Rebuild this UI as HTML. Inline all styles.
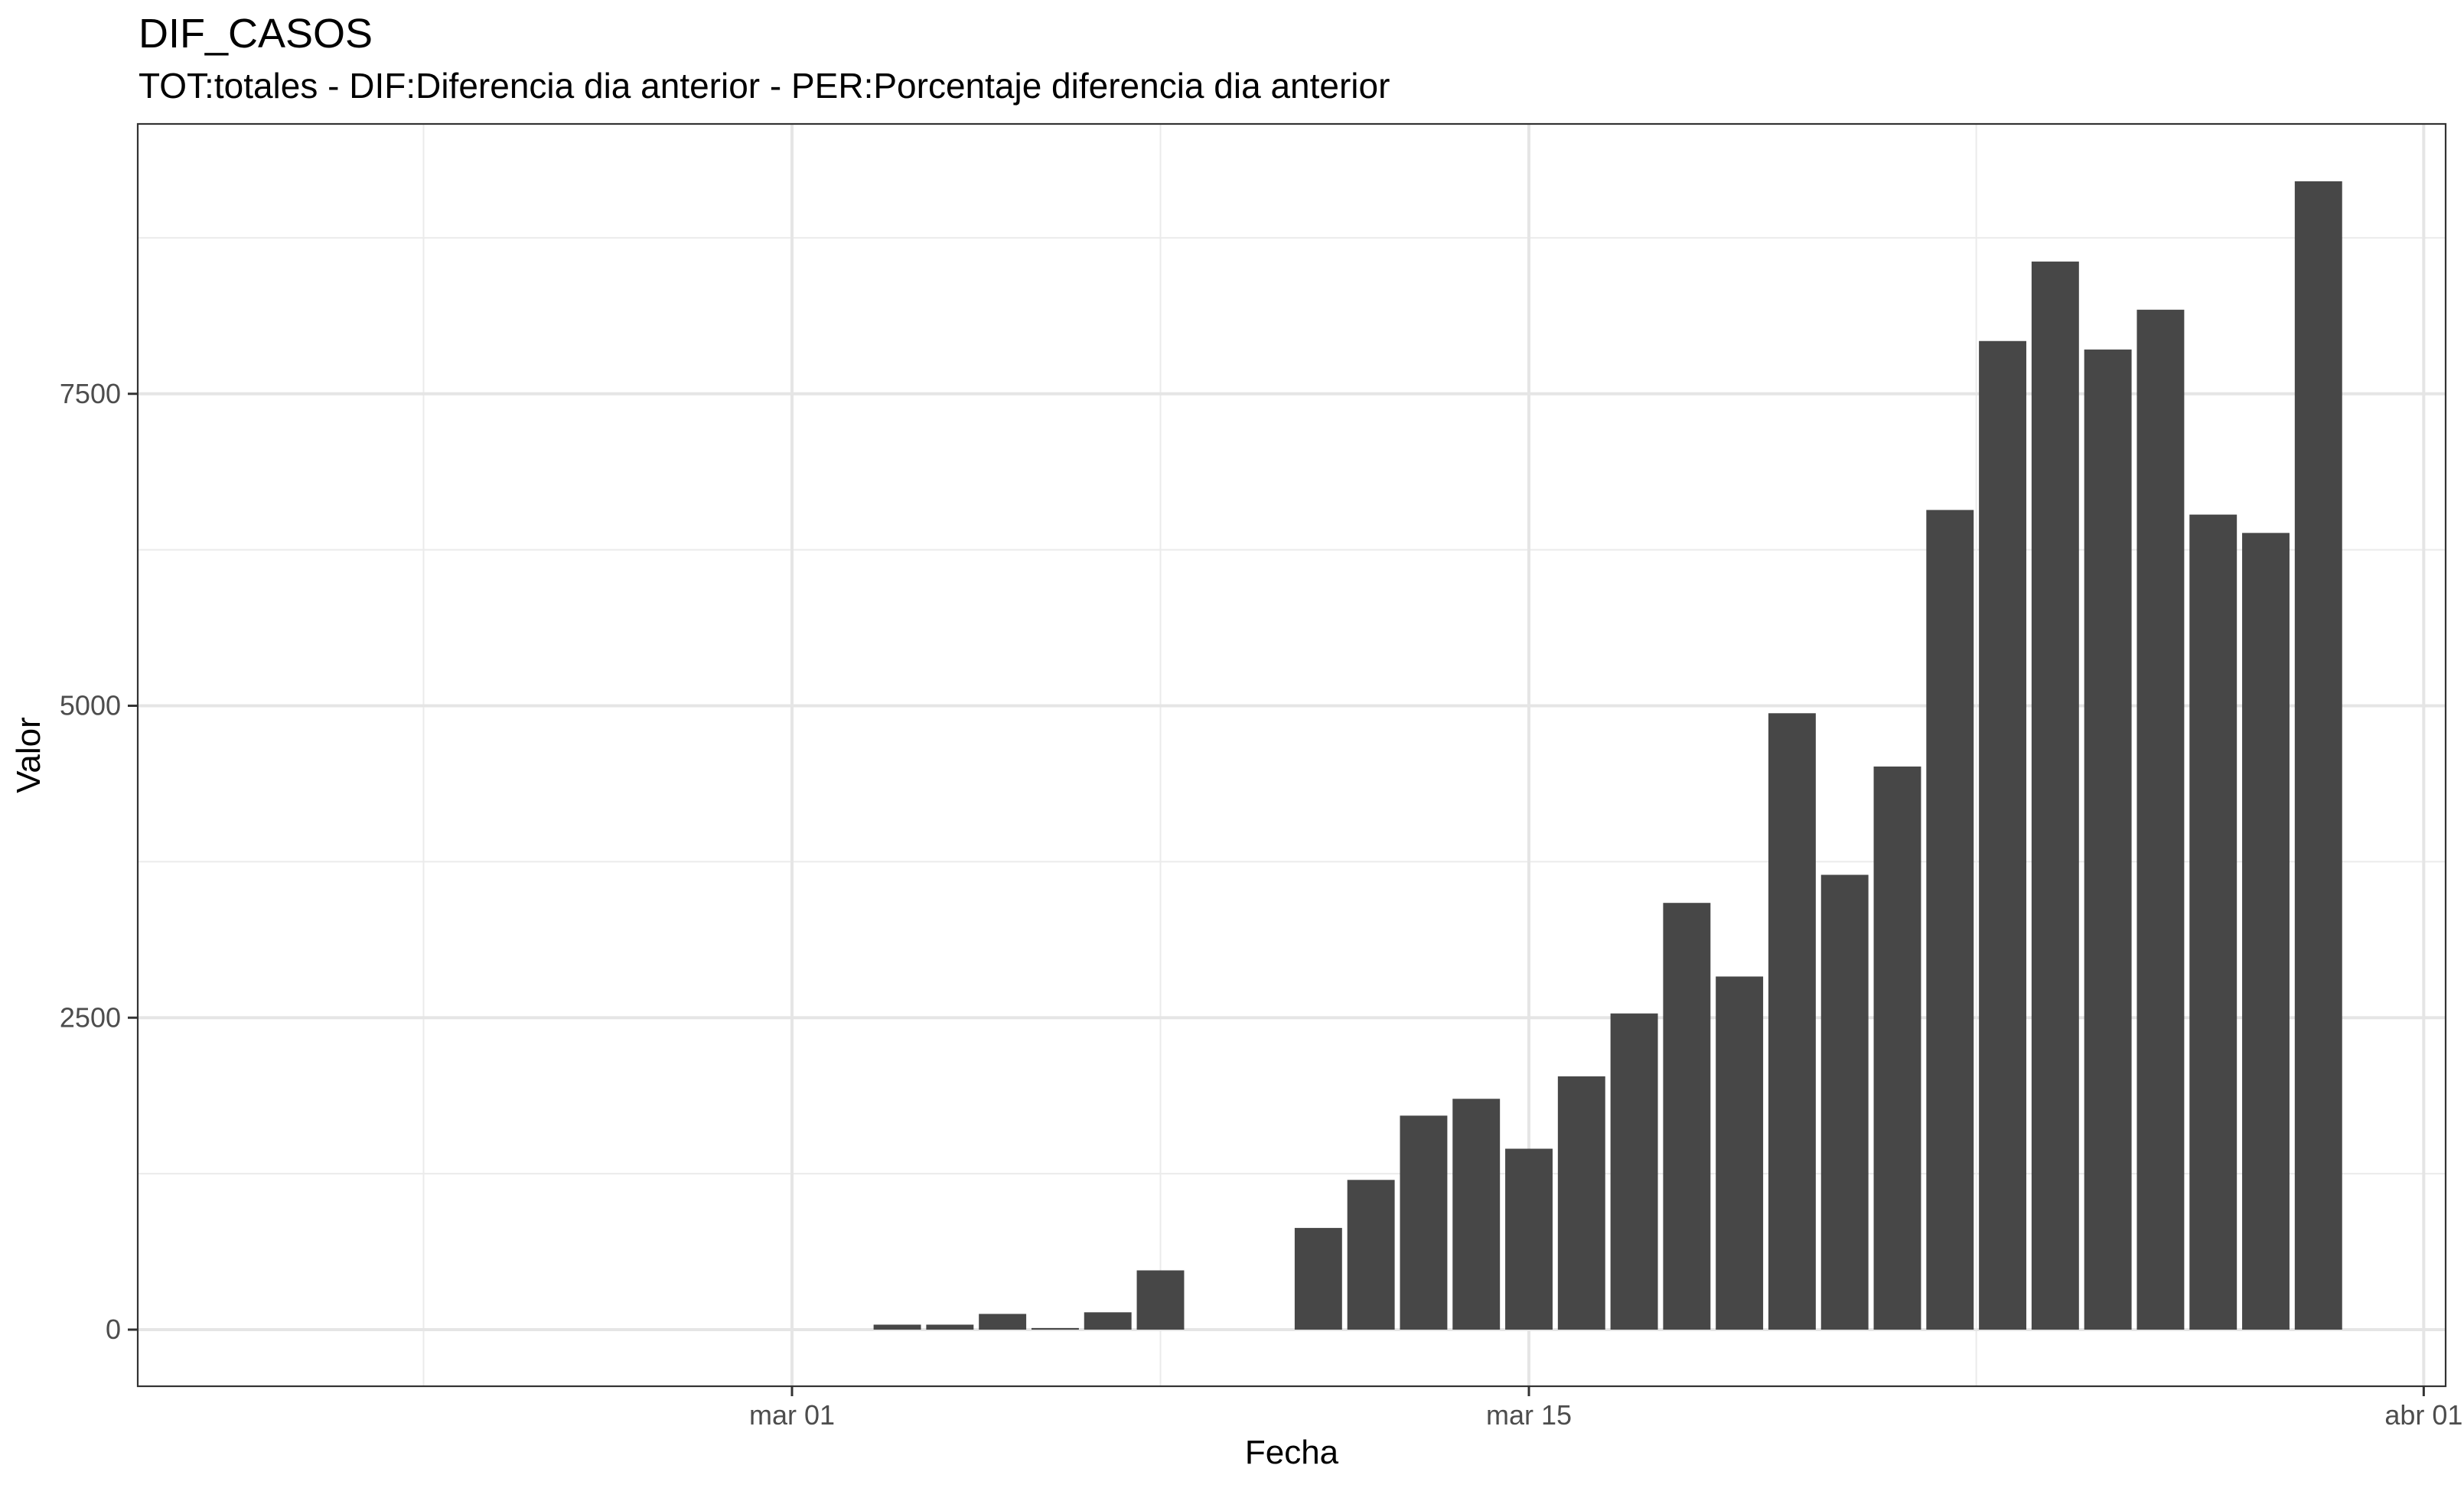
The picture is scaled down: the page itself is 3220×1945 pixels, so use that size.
<!DOCTYPE html>
<html><head><meta charset="utf-8"><style>
html,body{margin:0;padding:0;background:#fff;}
svg{display:block;font-family:"Liberation Sans",sans-serif;}
</style></head><body>
<svg id="chart" width="3220" height="1945" viewBox="0 0 3220 1945">
<text x="181" y="62" font-size="54" fill="#000">DIF_CASOS</text>
<text x="181" y="128" font-size="46" fill="#000">TOT:totales - DIF:Diferencia dia anterior - PER:Porcentaje diferencia dia anterior</text>
<g id="grid"></g>
<g id="bars"></g>
<rect x="180" y="162" width="3016" height="1650" fill="none" stroke="#333" stroke-width="2.2"/>
<g id="axes"></g>
<text x="1688" y="1913" font-size="44" text-anchor="middle" fill="#000">Fecha</text>
<text transform="translate(52,987) rotate(-90)" font-size="44" text-anchor="middle" fill="#000">Valor</text>
</svg>
<script>
// day offsets relative to mar 01
const days = [2,3,4,5,6,7,10,11,12,13,14,15,16,17,18,19,20,21,22,23,24,25,26,27,28,29];
const values = [40,40,126,13,139,475,815,1200,1715,1850,1450,2030,2534,3420,2830,4940,3645,4513,6569,7923,8560,7855,8174,6532,6385,9203];
const yTicks = [0,2500,5000,7500];
const yMinor = [1250,3750,6250,8750];
const xTickDays = [0,14,31];
const xTickLabels = ["mar 01","mar 15","abr 01"];
const xMinorDays = [-7,7,22.5];

const PL=180, PR=3196, PT=162, PB=1812;
const x0=1035, pxDay=(1998-1035)/14;
function xs(d){return x0+d*pxDay;}
const y0=1738, pxUnit=163.1/1000;
function ys(v){return y0-v*pxUnit;}
const NS="http://www.w3.org/2000/svg";
function mk(tag,attrs,parent){const e=document.createElementNS(NS,tag);for(const k in attrs)e.setAttribute(k,attrs[k]);parent.appendChild(e);return e;}
const grid=document.getElementById('grid'), bars=document.getElementById('bars'), axes=document.getElementById('axes');

yMinor.forEach(v=>{const l=mk('line',{x1:PL,x2:PR,y1:ys(v),y2:ys(v),stroke:'#ebebeb','stroke-width':2},grid);

});
xMinorDays.forEach(d=>{const l=mk('line',{x1:xs(d),x2:xs(d),y1:PT,y2:PB,stroke:'#ebebeb','stroke-width':2},grid);

});
yTicks.forEach(v=>{const l=mk('line',{x1:PL,x2:PR,y1:ys(v),y2:ys(v),stroke:'#e5e5e5','stroke-width':4},grid);


const t=mk('line',{x1:167,x2:PL,y1:ys(v),y2:ys(v),stroke:'#333','stroke-width':3},axes);


const tx=mk('text',{x:158,y:ys(v)+12,'font-size':36,'text-anchor':'end',fill:'#4d4d4d'},axes);
tx.textContent=String(v);

});
xTickDays.forEach((d,i)=>{const l=mk('line',{x1:xs(d),x2:xs(d),y1:PT,y2:PB,stroke:'#e5e5e5','stroke-width':4},grid);


const t=mk('line',{x1:xs(d),x2:xs(d),y1:PB,y2:PB+13,stroke:'#333','stroke-width':3},axes);


const tx=mk('text',{x:xs(d),y:1862,'font-size':36,'text-anchor':'middle',fill:'#4d4d4d'},axes);
tx.textContent=xTickLabels[i];

});
const bw=pxDay*0.9;
days.forEach((d,i)=>{const v=values[i];const top=ys(v);
const r=mk('rect',{x:xs(d)-bw/2,y:top,width:bw,height:y0-top,fill:'#474747'},bars);

});
</script>
</body></html>
